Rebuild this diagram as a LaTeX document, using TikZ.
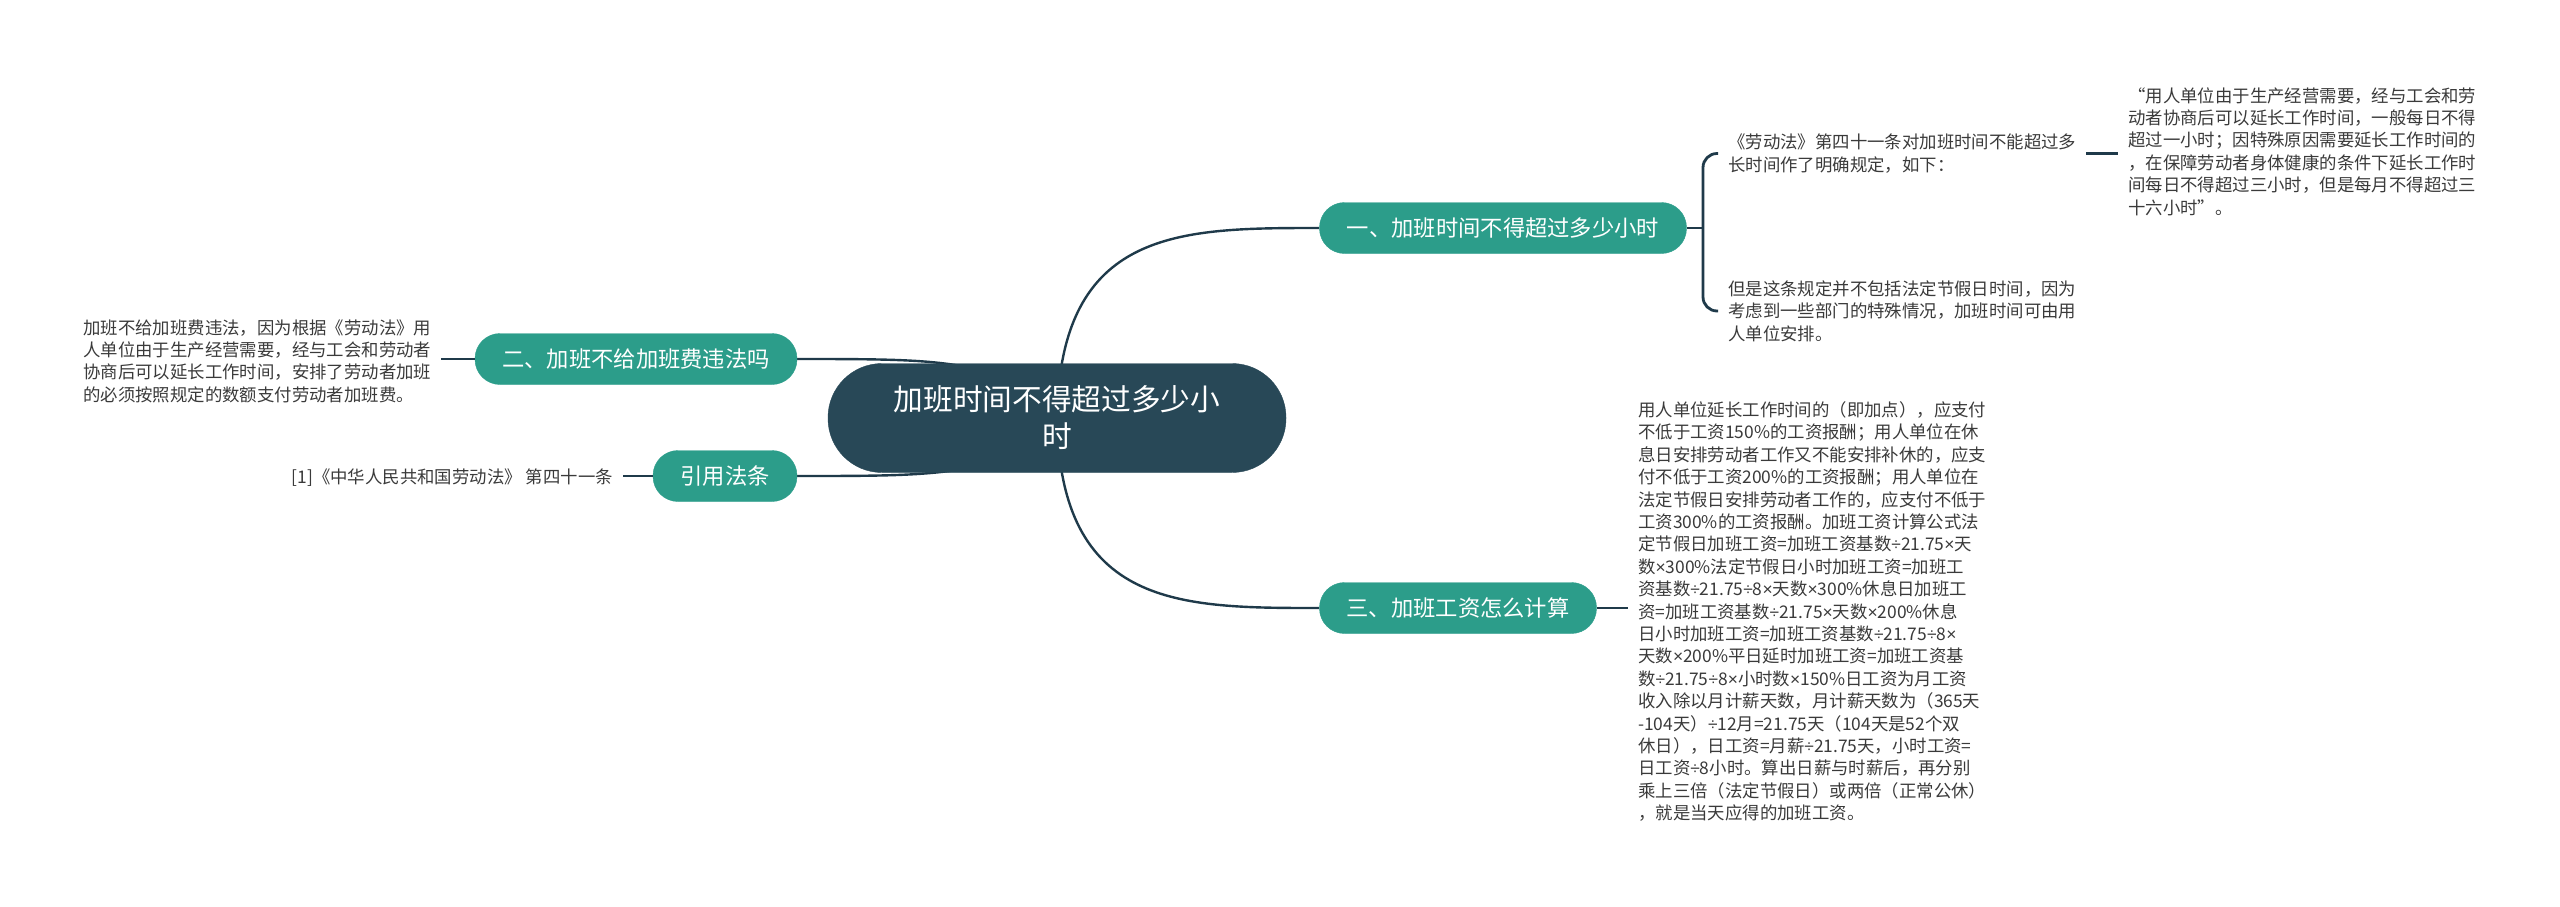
\documentclass[tikz,border=0pt]{standalone}
\usepackage{fontspec}
\setmainfont{Noto Sans CJK SC}
\newfontfamily\latinf{Liberation Sans}
\newcommand{\xmul}{{\latinf ×}}
\newcommand{\xdiv}{{\latinf ÷}}
\usetikzlibrary{backgrounds}
\definecolor{rootc}{HTML}{284857}
\definecolor{branchc}{HTML}{2C9D8A}
\definecolor{linec}{HTML}{1F3A4A}
\definecolor{leaftext}{HTML}{3A3A3A}
\tikzset{
  rootbox/.style={fill=rootc, draw=rootc, rounded corners=54pt, minimum width=458pt, minimum height=109pt, inner sep=0pt, text=white, align=center, font=\fontsize{29.7}{37}\selectfont},
  branchbox/.style={fill=branchc, draw=branchc, rounded corners=25pt, minimum height=51pt, inner sep=0pt, text=white, font=\fontsize{22.3}{26}\selectfont},
  leaftxt/.style={inner xsep=10pt, inner ysep=0pt, text=leaftext, align=left, font=\fontsize{17.4}{22.4}\selectfont},
  mainlink/.style={draw=linec, line width=2.4pt},
  leaflink/.style={draw=linec, line width=2.8pt},
}
\begin{document}
\begin{tikzpicture}[x=1pt,y=-1pt]
\useasboundingbox (0,0) rectangle (2560,906);
% nodes
\node[rootbox] (root) at (1057,418) {加班时间不得超过多少小\\时};
\node[branchbox, minimum width=367pt] (b1) at (1503,228) {一、加班时间不得超过多少小时};
\node[branchbox, minimum width=322pt] (b2) at (636,359) {二、加班不给加班费违法吗};
\node[branchbox, minimum width=144pt] (b4) at (725,476) {引用法条};
\node[branchbox, minimum width=277pt] (b3) at (1458,608) {三、加班工资怎么计算};

\node[leaftxt, anchor=west] (l1a) at (1718,153.5) {《劳动法》第四十一条对加班时间不能超过多\\长时间作了明确规定，如下：};
\node[leaftxt, anchor=west] (l1c) at (2118,151.5) {“用人单位由于生产经营需要，经与工会和劳\\动者协商后可以延长工作时间，一般每日不得\\超过一小时；因特殊原因需要延长工作时间的\\，在保障劳动者身体健康的条件下延长工作时\\间每日不得超过三小时，但是每月不得超过三\\十六小时”。};
\node[leaftxt, anchor=west] (l1b) at (1718,311) {但是这条规定并不包括法定节假日时间，因为\\考虑到一些部门的特殊情况，加班时间可由用\\人单位安排。};
\node[leaftxt, anchor=west] (l2) at (73,361) {加班不给加班费违法，因为根据《劳动法》用\\人单位由于生产经营需要，经与工会和劳动者\\协商后可以延长工作时间，安排了劳动者加班\\的必须按照规定的数额支付劳动者加班费。};
\node[leaftxt, anchor=east] (l4) at (623,478) {[1]《中华人民共和国劳动法》 第四十一条};
\node[leaftxt, anchor=west] (l3) at (1628,611.5) {用人单位延长工作时间的（即加点），应支付\\不低于工资150\%的工资报酬；用人单位在休\\息日安排劳动者工作又不能安排补休的，应支\\付不低于工资200\%的工资报酬；用人单位在\\法定节假日安排劳动者工作的，应支付不低于\\工资300\%的工资报酬。加班工资计算公式法\\定节假日加班工资=加班工资基数\xdiv{}21.75\xmul{}天\\数\xmul{}300\%法定节假日小时加班工资=加班工\\资基数\xdiv{}21.75\xdiv{}8\xmul{}天数\xmul{}300\%休息日加班工\\资=加班工资基数\xdiv{}21.75\xmul{}天数\xmul{}200\%休息\\日小时加班工资=加班工资基数\xdiv{}21.75\xdiv{}8\xmul{}\\天数\xmul{}200\%平日延时加班工资=加班工资基\\数\xdiv{}21.75\xdiv{}8\xmul{}小时数\xmul{}150\%日工资为月工资\\收入除以月计薪天数，月计薪天数为（365天\\-104天）\xdiv{}12月=21.75天（104天是52个双\\休日），日工资=月薪\xdiv{}21.75天，小时工资=\\日工资\xdiv{}8小时。算出日薪与时薪后，再分别\\乘上三倍（法定节假日）或两倍（正常公休）\\，就是当天应得的加班工资。};

\coordinate (j1) at (1703,228);
\begin{scope}[on background layer]
  \draw[mainlink] (root.center) .. controls (1060,228) and (1180,228) .. (b1.west);
  \draw[mainlink] (root.center) .. controls (1060,608) and (1180,608) .. (b3.west);
  \draw[mainlink] (root.center) .. controls (1000,359) and (950,359) .. (b2.east);
  \draw[mainlink] (root.center) .. controls (1000,476) and (950,476) .. (b4.east);
\end{scope}
\draw[leaflink] (b1.east) -- (j1);
\draw[leaflink, rounded corners=14pt] (l1a.west) -| (j1) |- (l1b.west);
\draw[leaflink] (l1a.east) -- (l1c.west |- l1a.east);
\draw[leaflink] (l2.east |- b2.west) -- (b2.west);
\draw[leaflink] (l4.east |- b4.west) -- (b4.west);
\draw[leaflink] (b3.east) -- (l3.west |- b3.east);
\end{tikzpicture}
\end{document}
